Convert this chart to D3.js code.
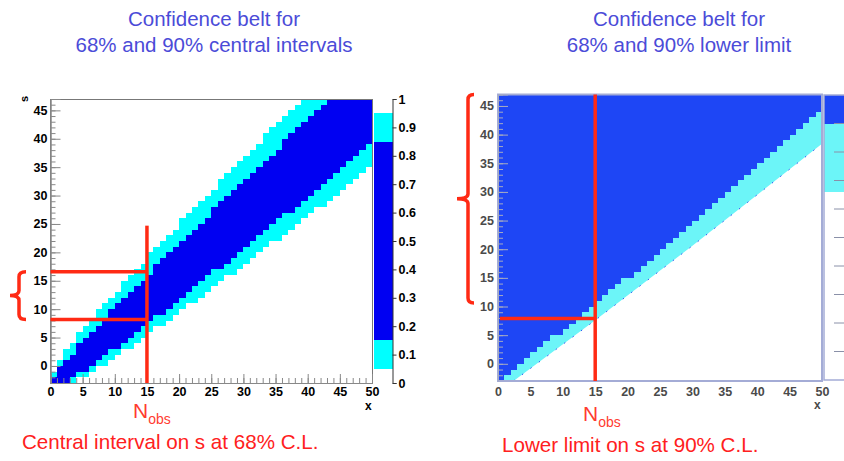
<!DOCTYPE html>
<html>
<head>
<meta charset="utf-8">
<script src="https://cdn.jsdelivr.net/npm/d3@7"></script>
<style>
body { margin: 0; background: #fff; }
svg { display: block; font-family: "Liberation Sans", Arial, sans-serif; }
</style>
</head>
<body>
<svg id="chart" width="844" height="461"></svg>
<script>
// ---- data ----
// left panel: one entry per observed-count column x = 0..49, values are s row edges
var cyanLow  = [-3,-3,-3,-3,-2,-2,-1,0,0,1, 2,3,3,4,5,6,7,7,8,9, 10,11,11,12,13,14,15,16,16,17, 18,19,20,21,22,22,23,24,25,26, 27,28,28,29,30,31,32,33,34,35];
var blueLow  = [-3,-3,-3,-2,-1,-1,0,1,2,3, 3,4,5,6,7,8,9,9,10,11, 12,13,14,15,16,17,17,18,19,20, 21,22,23,24,25,26,27,27,28,29, 30,31,32,33,34,35,36,37,38,39];
var blueTop  = [-2,0,1,2,4,5,6,7,8,10, 11,12,13,14,15,16,18,19,20,21, 22,23,24,25,26,28,29,30,31,32, 33,34,35,36,37,38,40,41,42,43, 44,45,46,47,47,47,47,47,47,47];
var cyanTop  = [-1,1,3,4,6,7,8,10,11,12, 13,15,16,17,18,20,21,22,23,24, 26,27,28,29,30,31,33,34,35,36, 37,38,39,41,42,43,44,45,46,47, 47,47,47,47,47,47,47,47,47,47];

// right panel: bottom edge of the dark band per column, and the smooth lower limit curve
var rightBlueLow = [-3,-2,-1,0,1,2,3,4,5,5, 6,7,8,9,10,11,12,13,14,15, 15,16,17,18,19,20,21,22,23,24, 25,26,27,28,29,30,31,32,33,34, 35,36,37,38,39,40,41,42,43,44];
var lowerLimitCurve = [[2.4,-3],[15,7.6],[30,20.6],[50,38.4]];

// colour bar bands [from, to]
var leftBands  = [[0.05,0.15,'cyan'],[0.15,0.85,'blue'],[0.85,0.95,'cyan']];
var rightBands = [[0.66,0.9,'cyan'],[0.9,1,'blue']];

// tick labels
var xTicks = [0,5,10,15,20,25,30,35,40,45,50];
var yTicks = [0,5,10,15,20,25,30,35,40,45];
var zTicks = [0,0.1,0.2,0.3,0.4,0.5,0.6,0.7,0.8,0.9,1];

// annotations
var nObs = 15;
var leftInterval = [8.2, 16.6];
var leftLineTop = 24.7;
var rightLimit = 7.9;
var rightBrace = [10.6, 47];

var svg = d3.select('#chart');

var colL = { cyan: '#00ffff', blue: '#0000f2' };
var colR = { cyan: '#6cf5f8', blue: '#1e46f5' };
var red = '#ff2a14';

// ---------------- left panel ----------------
var xL = d3.scaleLinear().domain([0, 50]).range([50.5, 372]);
var yL = d3.scaleLinear().domain([-3, 47]).range([383, 99]);
var cw = xL(1) - xL(0);

var gL = svg.append('g').attr('shape-rendering', 'crispEdges');
gL.selectAll('rect.c90').data(cyanLow).enter().append('rect')
    .attr('x', function (d, i) { return xL(i); })
    .attr('width', cw)
    .attr('y', function (d, i) { return yL(cyanTop[i]); })
    .attr('height', function (d, i) { return yL(d) - yL(cyanTop[i]); })
    .attr('fill', colL.cyan);
gL.selectAll('rect.c68').data(blueLow).enter().append('rect')
    .attr('x', function (d, i) { return xL(i); })
    .attr('width', cw)
    .attr('y', function (d, i) { return yL(blueTop[i]); })
    .attr('height', function (d, i) { return Math.max(0, yL(d) - yL(blueTop[i])); })
    .attr('fill', colL.blue);

gL.append('rect').attr('x', xL(0)).attr('y', yL(47))
    .attr('width', xL(50) - xL(0)).attr('height', yL(-3) - yL(47))
    .attr('fill', 'none').attr('stroke', '#777');

function styleAxis(g, tickCol, textCol) {
    g.attr('font-family', null).attr('font-size', null);
    g.select('.domain').attr('stroke', tickCol);
    g.selectAll('.tick line').attr('stroke', tickCol);
    g.selectAll('.tick text').attr('fill', textCol)
        .attr('font-weight', 'bold').attr('font-size', '12.5px');
}

var minorY = d3.range(-3, 47), minorX = d3.range(0, 51);
styleAxis(svg.append('g').attr('transform', 'translate(' + xL(0) + ',0)')
    .call(d3.axisLeft(yL).tickValues(minorY).tickSize(-5).tickFormat('')), '#888', '#000');
styleAxis(svg.append('g').attr('transform', 'translate(' + xL(0) + ',0)')
    .call(d3.axisLeft(yL).tickValues(yTicks).tickSize(-10).tickPadding(3)), '#888', '#000');
styleAxis(svg.append('g').attr('transform', 'translate(0,' + yL(-3) + ')')
    .call(d3.axisBottom(xL).tickValues(minorX).tickSize(-5).tickFormat('')), '#888', '#000');
styleAxis(svg.append('g').attr('transform', 'translate(0,' + yL(-3) + ')')
    .call(d3.axisBottom(xL).tickValues(xTicks).tickSize(-9).tickPadding(4)), '#888', '#000');

svg.append('text').attr('transform', 'translate(28,102) rotate(-90)')
    .attr('font-weight', 'bold').attr('font-size', '11px').text('s');
svg.append('text').attr('x', 365).attr('y', 410)
    .attr('font-weight', 'bold').attr('font-size', '12px').text('x');

// left colour bar
var zL = d3.scaleLinear().domain([0, 1]).range([383, 99]);
svg.append('g').attr('shape-rendering', 'crispEdges')
    .selectAll('rect').data(leftBands).enter().append('rect')
    .attr('x', 374).attr('width', 18.5)
    .attr('y', function (d) { return zL(d[1]); })
    .attr('height', function (d) { return zL(d[0]) - zL(d[1]); })
    .attr('fill', function (d) { return colL[d[2]]; });
styleAxis(svg.append('g').attr('transform', 'translate(392.5,0)')
    .call(d3.axisRight(zL).tickValues(zTicks).tickSize(4).tickPadding(2).tickFormat(d3.format('~g'))), '#333', '#000');

// left annotations
var gA = svg.append('g').attr('stroke', red).attr('stroke-width', 3.5).attr('fill', 'none');
gA.append('line').attr('x1', xL(nObs)).attr('x2', xL(nObs)).attr('y1', yL(-3)).attr('y2', yL(leftLineTop));
gA.selectAll('line.h').data(leftInterval).enter().append('line')
    .attr('x1', xL(0)).attr('x2', xL(nObs))
    .attr('y1', function (d) { return yL(d); }).attr('y2', function (d) { return yL(d); });

function brace(x, y0, y1, arm, nub) {
    var ym = (y0 + y1) / 2, r = 5;
    return 'M' + (x + arm) + ',' + y0 + ' Q' + x + ',' + y0 + ' ' + x + ',' + (y0 + r) +
        ' L' + x + ',' + (ym - r) + ' Q' + x + ',' + ym + ' ' + (x - nub) + ',' + ym +
        ' Q' + x + ',' + ym + ' ' + x + ',' + (ym + r) +
        ' L' + x + ',' + (y1 - r) + ' Q' + x + ',' + y1 + ' ' + (x + arm) + ',' + y1;
}
gA.append('path').attr('d', brace(19, yL(leftInterval[1]), yL(leftInterval[0]), 7, 9));

// ---------------- right panel ----------------
var xR = d3.scaleLinear().domain([0, 50]).range([498, 822]);
var yR = d3.scaleLinear().domain([-3, 47]).range([381, 94.5]);
var cwR = xR(1) - xR(0);

var gR = svg.append('g').attr('shape-rendering', 'crispEdges');
gR.selectAll('rect.cy').data(rightBlueLow).enter().append('rect')
    .attr('x', function (d, i) { return xR(i); })
    .attr('width', cwR)
    .attr('y', function (d) { return yR(d); })
    .attr('height', function (d) { return yR(-3) - yR(d); })
    .attr('fill', colR.cyan);
gR.selectAll('rect.bl').data(rightBlueLow).enter().append('rect')
    .attr('x', function (d, i) { return xR(i); })
    .attr('width', cwR)
    .attr('y', yR(47))
    .attr('height', function (d) { return yR(d) - yR(47); })
    .attr('fill', colR.blue);

var curve = d3.line().x(function (d) { return xR(d[0]); }).y(function (d) { return yR(d[1]); });
svg.append('path')
    .attr('d', curve(lowerLimitCurve.concat([[50, -3]])) + 'Z')
    .attr('fill', '#fff');
svg.append('path').attr('d', curve(lowerLimitCurve))
    .attr('fill', 'none').attr('stroke', '#2f50f0').attr('stroke-width', 1)
    .attr('stroke-dasharray', '1.5,9');

svg.append('rect').attr('x', xR(0)).attr('y', yR(47))
    .attr('width', xR(50) - xR(0)).attr('height', yR(-3) - yR(47))
    .attr('fill', 'none').attr('stroke', '#a4acd6').attr('stroke-width', 2);

styleAxis(svg.append('g').attr('transform', 'translate(' + xR(0) + ',0)')
    .call(d3.axisLeft(yR).tickValues(minorY).tickSize(-5).tickFormat('')), '#a6abc0', '#4a4a4a');
styleAxis(svg.append('g').attr('transform', 'translate(' + xR(0) + ',0)')
    .call(d3.axisLeft(yR).tickValues(yTicks).tickSize(-10).tickPadding(4)), '#a6abc0', '#4a4a4a');
styleAxis(svg.append('g').attr('transform', 'translate(0,' + yR(-3) + ')')
    .call(d3.axisBottom(xR).tickValues(xTicks).tickSize(0).tickPadding(6)), '#a4acd6', '#4a4a4a');
svg.append('text').attr('x', 814).attr('y', 409)
    .attr('font-weight', 'bold').attr('font-size', '12px').attr('fill', '#4a4a4a').text('x');

// right colour bar (cut by the page edge)
var zR = d3.scaleLinear().domain([0, 1]).range([380, 95]);
svg.append('g').attr('shape-rendering', 'crispEdges')
    .selectAll('rect').data(rightBands).enter().append('rect')
    .attr('x', 824).attr('width', 20)
    .attr('y', function (d) { return zR(d[1]); })
    .attr('height', function (d) { return zR(d[0]) - zR(d[1]); })
    .attr('fill', function (d) { return colR[d[2]]; });
svg.append('path').attr('d', 'M844,' + zR(1) + 'H824V' + zR(0) + 'H844')
    .attr('fill', 'none').attr('stroke', '#a4acd6').attr('stroke-width', 1.5);
svg.append('g').selectAll('line').data(zTicks.slice(1, 10)).enter().append('line')
    .attr('x1', 834).attr('x2', 844)
    .attr('y1', function (d) { return zR(d); }).attr('y2', function (d) { return zR(d); })
    .attr('stroke', '#8a90a8');

// right annotations
var gB = svg.append('g').attr('stroke', red).attr('stroke-width', 3.5).attr('fill', 'none');
gB.append('line').attr('x1', xR(nObs)).attr('x2', xR(nObs)).attr('y1', yR(-3)).attr('y2', yR(47));
gB.append('line').attr('x1', xR(0.3)).attr('x2', xR(nObs))
    .attr('y1', yR(rightLimit)).attr('y2', yR(rightLimit));
gB.append('path').attr('d', brace(468, yR(rightBrace[1]), yR(rightBrace[0]), 6, 11));

// ---------------- texts ----------------
var titles = [
    { x: 214, lines: ['Confidence belt for', '68% and 90% central intervals'] },
    { x: 679, lines: ['Confidence belt for', '68% and 90% lower limit'] }
];
titles.forEach(function (t) {
    t.lines.forEach(function (s, i) {
        svg.append('text').attr('x', t.x).attr('y', 26 + i * 26)
            .attr('text-anchor', 'middle').attr('font-size', '20.5px')
            .attr('fill', '#4b4bd8').text(s);
    });
});

var captions = [
    { x: 133, y: 418, cx: 22, cy: 449, text: 'Central interval on s at 68% C.L.' },
    { x: 583, y: 421, cx: 502, cy: 452, text: 'Lower limit on s at 90% C.L.' }
];
captions.forEach(function (c) {
    var t = svg.append('text').attr('x', c.x).attr('y', c.y).attr('fill', '#ff3b30').attr('font-size', '21px');
    t.append('tspan').text('N');
    t.append('tspan').attr('font-size', '14px').attr('dy', 6).text('obs');
    svg.append('text').attr('x', c.cx).attr('y', c.cy).attr('fill', '#ff2020')
        .attr('font-size', '20.6px').text(c.text);
});
</script>
</body>
</html>
